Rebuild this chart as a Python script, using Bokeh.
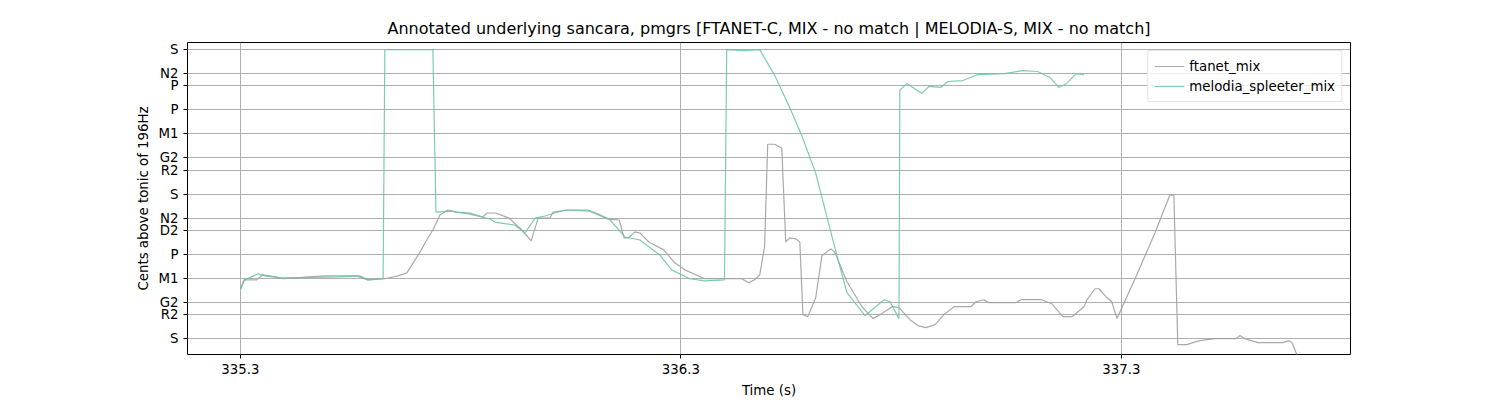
from bokeh.plotting import figure
from bokeh.models import FixedTicker, Range1d, Legend, LegendItem
from bokeh.embed import file_html
from bokeh.resources import INLINE

# tick positions (cents above tonic) and svara labels
svara_cents = [0, 200, 300, 500, 700, 900, 1000, 1200, 1400, 1500, 1700, 1900, 2100, 2200, 2400]
svara_names = ["S", "R2", "G2", "M1", "P", "D2", "N2", "S", "R2", "G2", "M1", "P", "P", "N2", "S"]
time_ticks = [335.3, 336.3, 337.3]

# ftanet_mix pitch track
ftanet_t = [335.300, 335.308, 335.337, 335.351, 335.381, 335.396, 335.490, 335.564, 335.589, 335.628,
            335.658, 335.678, 335.708, 335.723, 335.737, 335.753, 335.771, 335.791, 335.821, 335.850,
            335.860, 335.880, 335.910, 335.939, 335.960, 335.976, 336.003, 336.010, 336.044, 336.089,
            336.112, 336.137, 336.160, 336.171, 336.180, 336.196, 336.207, 336.227, 336.261, 336.286,
            336.309, 336.354, 336.438, 336.454, 336.467, 336.479, 336.490, 336.497, 336.513, 336.529,
            336.538, 336.547, 336.561, 336.570, 336.577, 336.588, 336.606, 336.620, 336.640, 336.649,
            336.677, 336.711, 336.736, 336.752, 336.779, 336.795, 336.820, 336.838, 336.856, 336.877,
            336.897, 336.920, 336.958, 336.970, 336.988, 336.999, 337.060, 337.072, 337.119, 337.142,
            337.167, 337.188, 337.215, 337.222, 337.240, 337.249, 337.265, 337.278, 337.290, 337.333,
            337.376, 337.410, 337.419, 337.428, 337.449, 337.462, 337.478, 337.512, 337.560, 337.569,
            337.580, 337.610, 337.666, 337.680, 337.687, 337.698, 337.710]
ftanet_c = [406, 488, 488, 530, 513, 497, 521, 521, 488, 497,
            521, 546, 720, 819, 902, 1026, 1068, 1051, 1043, 1010,
            1043, 1043, 1001, 902, 811, 1001, 1001, 1051, 1068, 1068,
            1034, 993, 985, 836, 836, 886, 877, 803, 737, 629,
            571, 497, 497, 463, 488, 530, 761, 1614, 1614, 1581,
            803, 836, 828, 803, 199, 182, 339, 687, 745, 720,
            472, 265, 166, 199, 265, 257, 157, 108, 91, 116,
            199, 265, 265, 306, 323, 298, 298, 323, 323, 290,
            182, 182, 265, 323, 414, 414, 348, 306, 166, 513,
            877, 1192, 1192, -50, -50, -33, -17, 0, 0, 25,
            0, -33, -33, -17, -33, -132, -250]

# melodia_spleeter_mix pitch track
melodia_t = [335.300, 335.310, 335.340, 335.356, 335.390, 335.526, 335.571, 335.590, 335.624, 335.628,
             335.737, 335.744, 335.776, 335.821, 335.867, 335.878, 335.923, 335.946, 335.969, 335.991,
             336.037, 336.093, 336.139, 336.173, 336.207, 336.252, 336.279, 336.320, 336.354, 336.399,
             336.404, 336.445, 336.479, 336.513, 336.547, 336.575, 336.606, 336.649, 336.677, 336.718,
             336.761, 336.775, 336.795, 336.797, 336.813, 336.847, 336.863, 336.890, 336.906, 336.940,
             336.974, 337.035, 337.076, 337.110, 337.138, 337.158, 337.176, 337.197, 337.215]
melodia_c = [406, 488, 538, 521, 505, 513, 521, 488, 497, 2400,
             2400, 1051, 1059, 1034, 993, 968, 943, 877, 1001, 1018,
             1068, 1059, 985, 844, 819, 695, 571, 497, 480, 488,
             2400, 2392, 2400, 2185, 1920, 1680, 1374, 761, 381, 190,
             323, 306, 166, 2061, 2119, 2036, 2094, 2086, 2135, 2143,
             2193, 2201, 2226, 2218, 2168, 2086, 2119, 2201, 2193]

p = figure(width=1500, height=400, output_backend="svg", toolbar_location=None,
           title="Annotated underlying sancara, pmgrs [FTANET-C, MIX - no match | MELODIA-S, MIX - no match]",
           x_range=Range1d(335.18, 337.82), y_range=Range1d(-132, 2459),
           min_border_left=187, min_border_right=150, min_border_top=42, min_border_bottom=45)
p.title.align = "center"
p.title.text_font = "DejaVu Sans"
p.title.text_font_size = "12pt"
p.title.text_font_style = "normal"
p.title.text_color = "black"

l1 = p.line(ftanet_t, ftanet_c, line_color="#a0a0a0", line_alpha=0.9, line_width=1.2)
l2 = p.line(melodia_t, melodia_c, line_color="#66c2a5", line_alpha=0.85, line_width=1.2)

p.xaxis.ticker = FixedTicker(ticks=time_ticks)
p.xaxis.major_label_overrides = {v: "%.1f" % v for v in time_ticks}
p.yaxis.ticker = FixedTicker(ticks=svara_cents)
p.yaxis.major_label_overrides = {c: n for c, n in zip(svara_cents, svara_names)}
p.xaxis.axis_label = "Time (s)"
p.yaxis.axis_label = "Cents above tonic of 196Hz"
for ax in (p.xaxis, p.yaxis):
    ax.axis_label_text_font = "DejaVu Sans"
    ax.axis_label_text_font_style = "normal"
    ax.axis_label_text_font_size = "10pt"
    ax.axis_label_text_color = "black"
    ax.major_label_text_font = "DejaVu Sans"
    ax.major_label_text_font_size = "10pt"
    ax.major_label_text_color = "black"
    ax.minor_tick_line_color = None
    ax.major_tick_out = 4
    ax.major_tick_in = 0
    ax.major_tick_line_color = "black"
    ax.axis_line_color = None
p.xaxis.axis_label_standoff = 6
p.grid.grid_line_color = "#b0b0b0"
p.grid.grid_line_width = 1
p.outline_line_color = "black"
p.outline_line_alpha = 1

legend = Legend(items=[LegendItem(label="ftanet_mix", renderers=[l1]),
                       LegendItem(label="melodia_spleeter_mix", renderers=[l2])],
                location="top_right", label_text_font="DejaVu Sans", label_text_font_size="10pt",
                label_text_color="black",
                border_line_color="#cccccc", background_fill_alpha=0.8,
                spacing=2, padding=6, margin=8, glyph_height=18, glyph_width=30, label_height=18)
p.add_layout(legend)

open("out.html", "w").write(file_html(p, INLINE))
